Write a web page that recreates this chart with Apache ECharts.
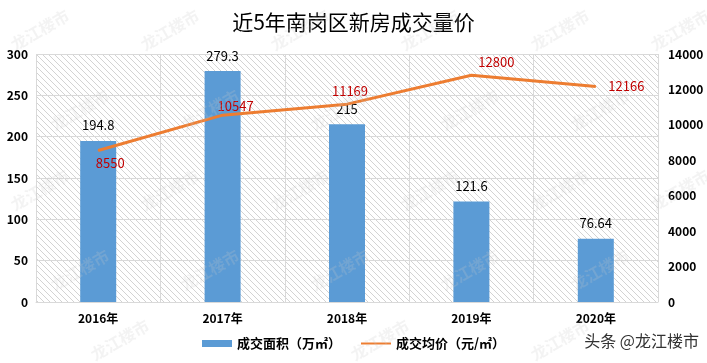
<!DOCTYPE html>
<html><head><meta charset="utf-8">
<script src="https://cdn.jsdelivr.net/npm/echarts@6/dist/echarts.min.js"></script>
<style>html,body{margin:0;padding:0;background:#fff}#c{width:707px;height:363px}</style>
</head><body><div id="c"></div>
<script>
const categories = ['2016年','2017年','2018年','2019年','2020年'];
const areaValues = [194.8, 279.3, 215, 121.6, 76.64];
const priceValues = [8550, 10547, 11169, 12800, 12166];
const priceLabelPos = ['bottom','top','top','top','right'];
const priceLabelOffset = [[12,0],[13,4],[3,0],[25,0],[0,0]];
const leftTicks = {min:0, max:300, interval:50};
const rightTicks = {min:0, max:14000, interval:2000};

const cv = document.createElement('canvas');
cv.width = 6; cv.height = 6;
const g = cv.getContext('2d');
g.fillStyle = '#ffffff'; g.fillRect(0,0,6,6);
g.strokeStyle = '#d3d3d3'; g.lineWidth = 1;
g.beginPath(); g.moveTo(0,0); g.lineTo(6,6); g.moveTo(-3,3); g.lineTo(3,9); g.moveTo(3,-3); g.lineTo(9,3); g.stroke();

const FONT = '"Noto Sans CJK SC", "Microsoft YaHei", sans-serif';
const chart = echarts.init(document.getElementById('c'));

const wm = [];
const wmPos = [[40,30],[170,30],[300,30],[430,30],[560,30],[680,30],
  [80,110],[210,110],[340,110],[470,110],[600,110],
  [40,190],[170,190],[300,190],[430,190],[560,190],[680,190],
  [80,270],[210,270],[340,270],[470,270],[600,270],
  [120,340],[380,340],[560,340]];
wmPos.forEach(p=>wm.push({type:'text', x:p[0], y:p[1], rotation:Math.PI/6, z:100, silent:true,
  style:{text:'龙江楼市', fill:'rgba(200,200,200,0.22)', font:'bold 16px '+FONT, align:'center', verticalAlign:'middle'}}));
wm.push({type:'text', right:8, top:333, z:100, style:{text:'头条 @龙江楼市', fill:'#333', font:'16px '+FONT}});

chart.setOption({
  animation:false,
  backgroundColor:'#fff',
  title:{text:'近5年南岗区新房成交量价', left:'center', top:7,
    textStyle:{fontFamily:FONT, fontSize:21, fontWeight:'normal', color:'#000'}},
  grid:{left:36, right:49, top:54, bottom:61, show:true, borderWidth:0,
    backgroundColor:{image:cv, repeat:'repeat'}},
  legend:{bottom:8, left:'center', itemWidth:30, itemHeight:7, itemGap:20,
    textStyle:{fontFamily:FONT, fontSize:13, fontWeight:'bold', color:'#000'},
    data:[{name:'成交面积（万㎡）', icon:'rect'}, {name:'成交均价（元/㎡）', icon:'path://M0,0 L30,0 L30,2 L0,2 Z'}]},
  xAxis:{type:'category', data:categories,
    axisLine:{lineStyle:{color:'#d9d9d9'}}, axisTick:{show:false},
    splitLine:{show:true, interval:0, lineStyle:{color:'#d9d9d9'}},
    axisLabel:{fontFamily:FONT, fontSize:12, fontWeight:'bold', color:'#000', margin:10}},
  yAxis:[
    {type:'value', min:leftTicks.min, max:leftTicks.max, interval:leftTicks.interval,
      axisLine:{show:false}, axisTick:{show:false},
      splitLine:{lineStyle:{color:'#d9d9d9'}},
      axisLabel:{fontFamily:FONT, fontSize:12, fontWeight:'bold', color:'#000', margin:8}},
    {type:'value', min:rightTicks.min, max:rightTicks.max, interval:rightTicks.interval,
      axisLine:{show:false}, axisTick:{show:false}, splitLine:{show:false},
      axisLabel:{fontFamily:FONT, fontSize:12, fontWeight:'bold', color:'#000', margin:10, formatter:v=>String(v)}}
  ],
  series:[
    {name:'成交面积（万㎡）', type:'bar', data:areaValues, barWidth:36, itemStyle:{color:'#5B9BD5'},
      label:{show:true, position:'top', distance:9, fontFamily:FONT, fontSize:13, color:'#000'}},
    {name:'成交均价（元/㎡）', type:'line', yAxisIndex:1, symbol:'circle', symbolSize:1, showSymbol:true,
      lineStyle:{color:'#ED7D31', width:3}, itemStyle:{color:'#ED7D31'},
      label:{show:true, fontFamily:FONT, fontSize:13, color:'#C00000'},
      data: priceValues.map((v,i)=>({value:v, label:{position:priceLabelPos[i], distance: i===4?12:6, offset:priceLabelOffset[i]}}))}
  ],
  graphic: wm
});
</script></body></html>
